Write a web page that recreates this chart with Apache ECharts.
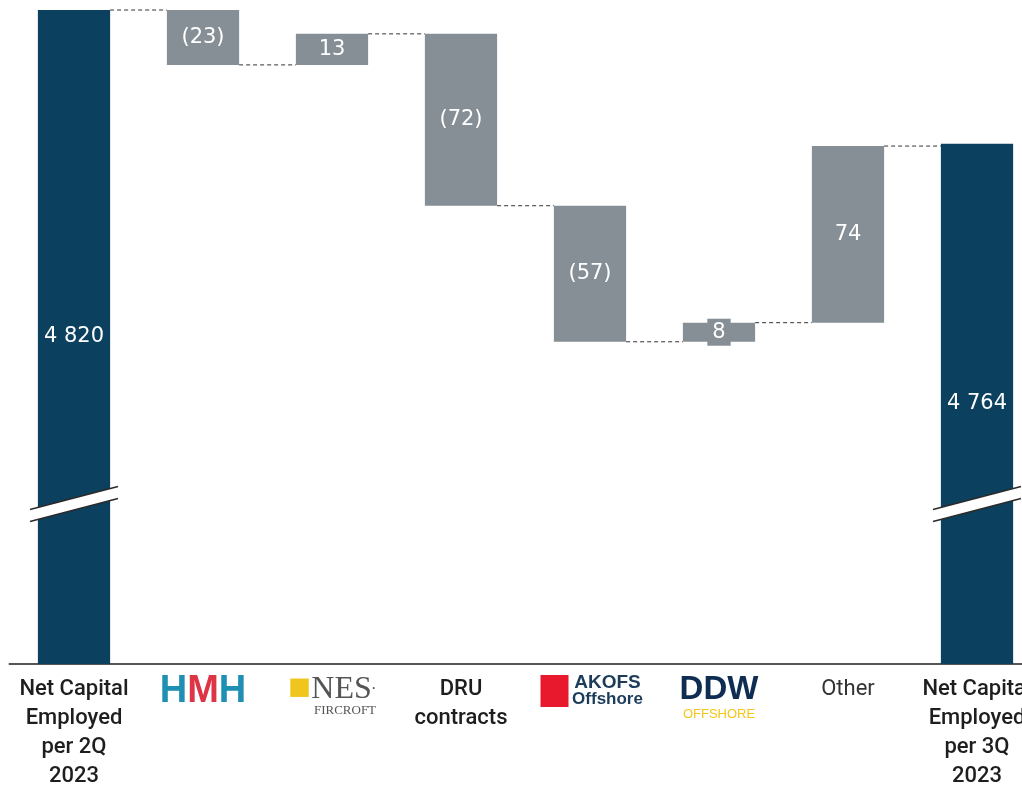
<!DOCTYPE html>
<html><head><meta charset="utf-8">
<script src="https://cdn.jsdelivr.net/npm/echarts@6/dist/echarts.min.js"></script>
<style>html,body{margin:0;padding:0;background:#fff}#c{width:1022px;height:787px}</style>
</head><body><div id="c"></div>
<script>
const categories = ['start','HMH','NES','DRU','AKOFS','DDW','Other','end'];
const startValue = 4820;
const deltas = [-23, 13, -72, -57, 8, 74];
const endValue = 4764;
const axisMin = 4546;
const axisMax = 4820;
const breakValue = 4613;

const DARK = '#0c405f', GRAY = '#868f95';
const levels = [startValue];
deltas.forEach(d => levels.push(levels[levels.length-1] + d));
const baseData = [0], visData = [];
visData.push({value: startValue, itemStyle:{color: DARK}});
for (let i = 0; i < deltas.length; i++) {
  const prev = levels[i], cur = levels[i+1];
  baseData.push(Math.min(prev, cur));
  const item = {value: Math.abs(deltas[i]), itemStyle:{color: GRAY}};
  if (Math.abs(deltas[i]) < 10) item.label = {backgroundColor: GRAY, padding: [3, 5]};
  visData.push(item);
}
baseData.push(0);
visData.push({value: endValue, itemStyle:{color: DARK}});
function fmtNum(v){ return String(v).replace(/\B(?=(\d{3})+(?!\d))/g, ' '); }
function labelText(i){
  if (i === 0) return fmtNum(startValue);
  if (i === categories.length-1) return fmtNum(endValue);
  const d = deltas[i-1];
  return d < 0 ? '(' + (-d) + ')' : String(d);
}
const connectorData = [];
for (let i = 0; i < categories.length-1; i++) {
  connectorData.push([i, i < levels.length ? levels[i] : levels[levels.length-1]]);
}
const BAR_FRAC = 0.56;

const axisLabelText = {
  start: 'Net Capital\nEmployed\nper 2Q\n2023',
  HMH: '{hb|H}{hr|M}{hb|H}',
  NES: '{sq|■}{nes|NES}{dot|·}\n{fir|FIRCROFT}',
  DRU: 'DRU\ncontracts',
  AKOFS: '{akb|}{akt|AKOFS}\n{akb|}{ako|Offshore}',
  DDW: '{ddw|DDW}\n{off|OFFSHORE}',
  Other: '{oth|Other}',
  end: 'Net Capital\nEmployed\nper 3Q\n2023'
};

const chart = echarts.init(document.getElementById('c'));
chart.setOption({
  animation: false,
  grid: {left: 9.5, top: 10, bottom: 123, right: -19.5, containLabel: false, outerBoundsMode: 'none'},
  xAxis: {
    type: 'category', data: categories,
    axisTick: {show: false},
    axisLine: {lineStyle: {color: '#555', width: 2}},
    axisLabel: {
      interval: 0, margin: 11, color: '#1e1e1e', fontSize: 22, lineHeight: 29,
      fontFamily: 'Roboto', fontWeight: 500, verticalAlign: 'top',
      formatter: v => axisLabelText[v],
      rich: {
        hb: {color: '#1f8fb4', fontSize: 38, fontWeight: 'bold', fontFamily: 'Liberation Sans', lineHeight: 34},
        hr: {color: '#de3546', fontSize: 38, fontWeight: 'bold', fontFamily: 'Liberation Sans', lineHeight: 34},
        sq: {color: '#f0c61e', fontSize: 38, lineHeight: 28},
        nes: {color: '#555', fontSize: 32, fontFamily: 'Liberation Serif', lineHeight: 28},
        dot: {color: '#555', fontSize: 14},
        fir: {color: '#555', fontSize: 13, fontFamily: 'Liberation Serif', padding: [0,0,0,26], lineHeight: 14},
        akb: {backgroundColor: '#e8192c', width: 28, height: 16, lineHeight: 16},
        akt: {color: '#1c3c5a', fontSize: 19, fontWeight: 'bold', lineHeight: 16, height: 16, width: 64, fontFamily: 'Liberation Sans', padding: [0,0,0,7], align: 'left'},
        ako: {color: '#1c3c5a', fontSize: 17, fontWeight: 'bold', lineHeight: 16, height: 16, width: 64, fontFamily: 'Liberation Sans', padding: [0,0,0,7], align: 'left'},
        ddw: {color: '#0f2d52', fontSize: 33, fontWeight: 'bold', lineHeight: 30, fontFamily: 'Liberation Sans'},
        off: {color: '#f5c518', fontSize: 13, lineHeight: 18, fontFamily: 'Liberation Sans'},
        oth: {color: '#333', fontSize: 22, fontWeight: 'normal', fontFamily: 'Roboto'}
      }
    }
  },
  yAxis: {type: 'value', min: axisMin, max: axisMax, show: false, splitLine: {show: false}},
  series: [
    {type: 'bar', stack: 'w', data: baseData, itemStyle: {color: 'transparent'}, barWidth: (BAR_FRAC*100)+'%', silent: true},
    {type: 'bar', stack: 'w', data: visData, barWidth: (BAR_FRAC*100)+'%',
      label: {show: true, position: 'inside', color: '#fff', fontSize: 21, fontFamily: 'DejaVu Sans',
        formatter: p => labelText(p.dataIndex)
      }
    },
    {type: 'custom', data: connectorData, silent: true, z: 5,
      renderItem: (params, api) => {
        const i = api.value(0), lv = api.value(1);
        const a = api.coord([i, lv]), b = api.coord([i+1, lv]);
        const half = api.size([1, 0])[0] * BAR_FRAC / 2;
        return {type: 'line', shape: {x1: a[0]+half, y1: a[1], x2: b[0]-half, y2: b[1]},
          style: {stroke: '#333', lineWidth: 1, lineDash: [4, 3]}};
      }
    },
    {type: 'custom', data: [[0, breakValue], [categories.length-1, breakValue]], silent: true, z: 10,
      renderItem: (params, api) => {
        const c = api.coord([api.value(0), api.value(1)]);
        const xl = c[0]-44, xr = c[0]+44, y = c[1];
        const dy = 11.5, t = 6;
        return {type: 'group', children: [
          {type: 'polygon', shape: {points: [[xl, y+dy-t],[xr, y-dy-t],[xr, y-dy+t],[xl, y+dy+t]]}, style: {fill: '#fff'}},
          {type: 'line', shape: {x1: xl, y1: y+dy-t, x2: xr, y2: y-dy-t}, style: {stroke: '#2a2a2a', lineWidth: 1.5}},
          {type: 'line', shape: {x1: xl, y1: y+dy+t, x2: xr, y2: y-dy+t}, style: {stroke: '#2a2a2a', lineWidth: 1.5}}
        ]};
      }
    }
  ]
});
</script></body></html>
